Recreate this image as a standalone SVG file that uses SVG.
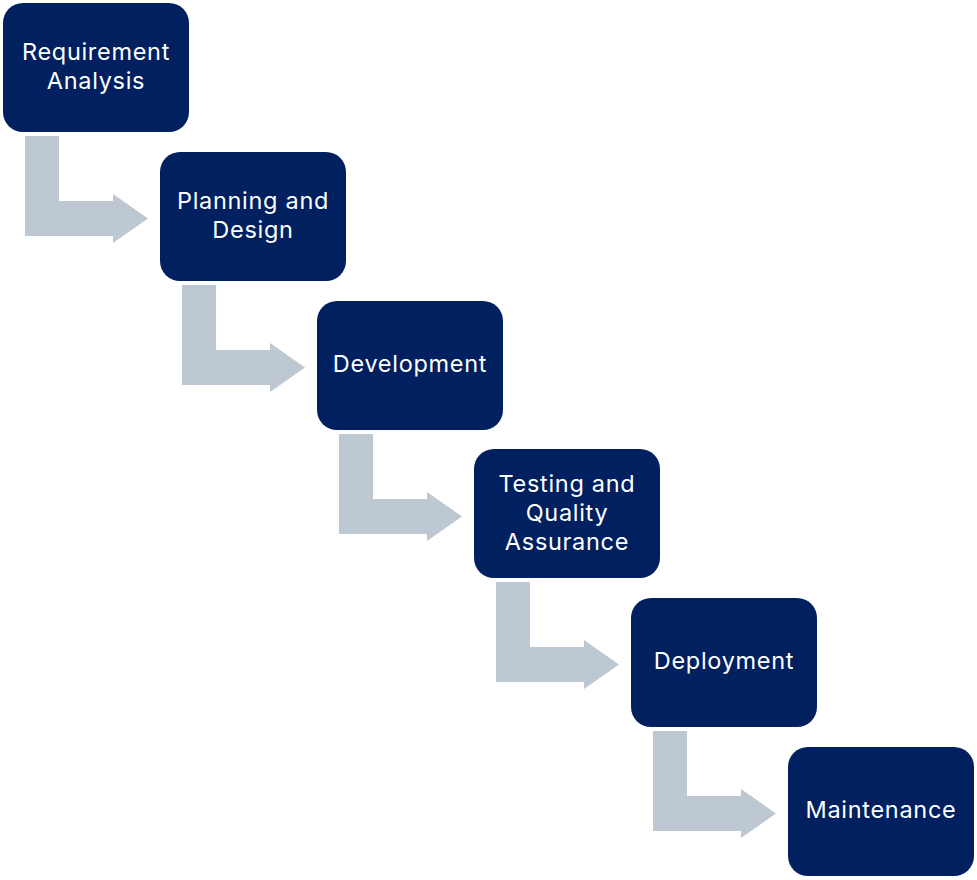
<svg xmlns="http://www.w3.org/2000/svg" width="977" height="880" viewBox="0 0 977 880">
<style>
.box{fill:#002060}
.arr{fill:#BEC8D2}
.t{font-family:Inter,"Noto Sans","DejaVu Sans",sans-serif;font-size:23.5px;letter-spacing:0.7px;fill:#FFFFFF;text-anchor:middle}
</style>
<defs>
<path id="bend" d="M0,0 h34 v65 h54 v-7 l35,24.5 l-35,24.5 v-7 h-88 z"/>
</defs>
<rect width="977" height="880" fill="#FFFFFF"/>
<g id="connectors">
<use href="#bend" class="arr" x="25" y="136"/>
<use href="#bend" class="arr" x="182" y="285"/>
<use href="#bend" class="arr" x="339" y="434"/>
<use href="#bend" class="arr" x="496" y="582"/>
<use href="#bend" class="arr" x="653" y="731"/>
</g>
<g id="requirement-analysis">
<rect class="box" x="3" y="3" width="186" height="129" rx="20"/>
<text class="t" x="96" y="60">Requirement</text>
<text class="t" x="96" y="89">Analysis</text>
</g>
<g id="planning-design">
<rect class="box" x="160" y="152" width="186" height="129" rx="20"/>
<text class="t" x="253" y="209">Planning and</text>
<text class="t" x="253" y="238">Design</text>
</g>
<g id="development">
<rect class="box" x="317" y="301" width="186" height="129" rx="20"/>
<text class="t" x="410" y="372">Development</text>
</g>
<g id="testing-qa">
<rect class="box" x="474" y="449" width="186" height="129" rx="20"/>
<text class="t" x="567" y="492">Testing and</text>
<text class="t" x="567" y="521">Quality</text>
<text class="t" x="567" y="550">Assurance</text>
</g>
<g id="deployment">
<rect class="box" x="631" y="598" width="186" height="129" rx="20"/>
<text class="t" x="724" y="669">Deployment</text>
</g>
<g id="maintenance">
<rect class="box" x="788" y="747" width="186" height="129" rx="20"/>
<text class="t" x="881" y="818">Maintenance</text>
</g>
</svg>
